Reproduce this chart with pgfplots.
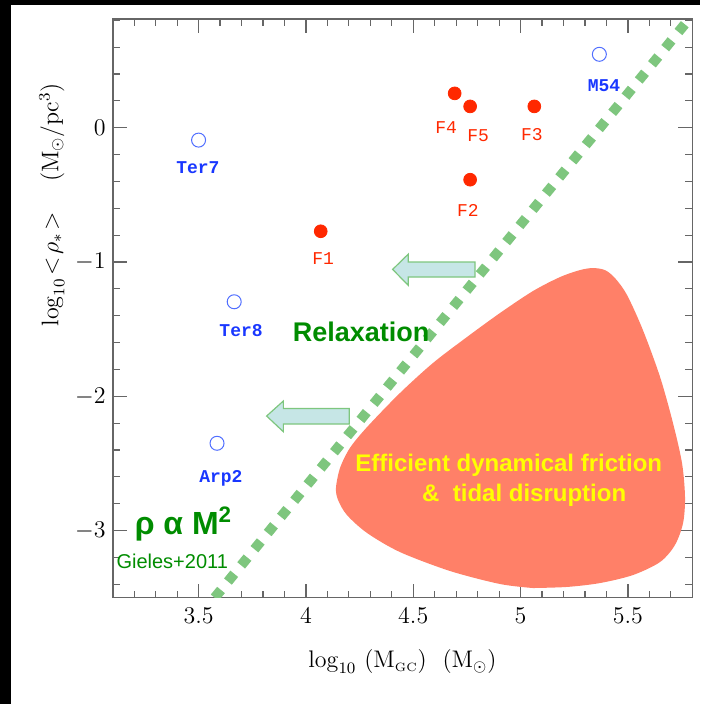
\documentclass[border=0pt]{standalone}
\usepackage{fontspec}
\usepackage{pgfplots}
\pgfplotsset{compat=1.18}
\newfontfamily\arial{Liberation Sans}
\newfontfamily\mono{Liberation Mono}
\definecolor{salmon}{RGB}{255,128,104}
\definecolor{dotgreen}{RGB}{126,198,126}
\definecolor{arrowfill}{RGB}{198,230,230}
\definecolor{arrowedge}{RGB}{126,198,126}
\definecolor{txtgreen}{RGB}{0,140,0}
\definecolor{txtyellow}{RGB}{255,255,0}
\definecolor{lblblue}{RGB}{25,55,255}
\definecolor{circblue}{RGB}{80,110,255}
\definecolor{ptred}{RGB}{255,40,0}
\begin{document}
\begin{tikzpicture}
\path[use as bounding box] (0,0) rectangle (350pt,352pt);
\fill[black] (0,0) rectangle (5.5pt,352pt);
\fill[black] (0,349.5pt) rectangle (350pt,352pt);
\begin{axis}[
  at={(56.35pt,53.15pt)}, anchor=south west,
  scale only axis, width=289.8pt, height=289.35pt,
  xmin=3.1, xmax=5.8, ymin=-3.5, ymax=0.81,
  xtick={3.5,4,4.5,5,5.5},
  ytick={-3,-2,-1,0},
  minor xtick={3.1,3.2,...,5.8},
  minor ytick={-3.4,-3.2,...,0.8},
  tick align=inside,
  major tick length=7pt, minor tick length=3.5pt,
  axis line style={black!60, line width=0.8pt},
  tick style={black!60, line width=0.6pt},
  tick label style={font=\fontsize{12}{14}\selectfont},
  xticklabel style={yshift=-1.5pt},
  every axis x label/.style={at={(rel axis cs:0.5,0)}, anchor=center, yshift=-32pt},
  every axis y label/.style={at={(rel axis cs:-0.105,0.679)}, rotate=90, anchor=center},
  label style={font=\fontsize{12}{14}\selectfont},
  xlabel={$\log_{10}\ (\mathrm{M}_{\mathrm{\scriptscriptstyle GC}})\ \ (\mathrm{M}_\odot)$},
  ylabel={$\log_{10}\!<\!\rho_*\!>\ \ \ (\mathrm{M}_\odot/\mathrm{pc}^3)$},
  clip=true,
]
% disruption region
\addplot[fill=salmon, draw=none, smooth, tension=0.5] coordinates {
(5.058,-3.428) (4.904,-3.398) (4.671,-3.301) (4.438,-3.160) (4.285,-3.018)
(4.191,-2.884) (4.150,-2.773) (4.140,-2.683) (4.159,-2.534) (4.205,-2.385)
(4.285,-2.229) (4.438,-1.976) (4.592,-1.752) (4.750,-1.559) (4.904,-1.380)
(5.058,-1.216) (5.184,-1.112) (5.277,-1.060) (5.337,-1.045) (5.393,-1.060)
(5.440,-1.120) (5.496,-1.246) (5.570,-1.507) (5.650,-1.857) (5.710,-2.199)
(5.752,-2.497) (5.766,-2.750) (5.757,-2.944) (5.719,-3.108) (5.650,-3.234)
(5.524,-3.331) (5.370,-3.391) (5.216,-3.420) (5.058,-3.428)} -- cycle;
% rho ~ M^2 relation
\addplot[draw=dotgreen, line width=5pt, dash pattern=on 5pt off 5.45pt, line cap=butt] coordinates {(3.575,-3.5) (5.785,0.81)};
% arrows
\addplot[fill=arrowfill, draw=arrowedge, line width=0.6pt] coordinates {
(4.404,-1.055) (4.477,-0.941) (4.477,-1.000) (4.788,-1.000) (4.788,-1.112) (4.477,-1.112) (4.477,-1.174)} -- cycle;
\addplot[fill=arrowfill, draw=arrowedge, line width=0.6pt] coordinates {
(3.817,-2.147) (3.895,-2.035) (3.895,-2.091) (4.202,-2.091) (4.202,-2.207) (3.895,-2.207) (3.895,-2.264)} -- cycle;
% clusters
\addplot[only marks, mark=o, mark size=3.5pt, color=circblue, mark options={line width=0.5pt}] coordinates {
(3.500,-0.092) (3.666,-1.296) (3.586,-2.350) (5.367,0.547)};
\addplot[only marks, mark=*, mark size=3.2pt, color=ptred] coordinates {
(4.693,0.256) (4.765,0.159) (5.064,0.159) (4.765,-0.387) (4.069,-0.771)};
% labels
\node[lblblue, font=\mono\bfseries\fontsize{9}{10}\selectfont] at (axis cs:3.497,-0.300) {Ter7};
\node[lblblue, font=\mono\bfseries\fontsize{9}{10}\selectfont] at (axis cs:3.698,-1.507) {Ter8};
\node[lblblue, font=\mono\bfseries\fontsize{9}{10}\selectfont] at (axis cs:3.604,-2.609) {Arp2};
\node[lblblue, font=\mono\bfseries\fontsize{9}{10}\selectfont] at (axis cs:5.389,0.310) {M54};
\node[ptred, font=\mono\fontsize{9}{10}\selectfont] at (axis cs:4.653,0.005) {F4};
\node[ptred, font=\mono\fontsize{9}{10}\selectfont] at (axis cs:4.802,-0.062) {F5};
\node[ptred, font=\mono\fontsize{9}{10}\selectfont] at (axis cs:5.053,-0.054) {F3};
\node[ptred, font=\mono\fontsize{9}{10}\selectfont] at (axis cs:4.755,-0.613) {F2};
\node[ptred, font=\mono\fontsize{9}{10}\selectfont] at (axis cs:4.080,-0.971) {F1};
% annotations
\node[txtgreen, font=\arial\bfseries\fontsize{13.5}{15}\selectfont] at (axis cs:4.257,-1.519) {Relaxation};
\node[txtyellow, font=\arial\bfseries\fontsize{12}{14}\selectfont] at (axis cs:4.945,-2.512) {Efficient dynamical friction};
\node[txtyellow, font=\arial\bfseries\fontsize{12}{14}\selectfont] at (axis cs:5.017,-2.735) {\&\ \ tidal disruption};
\node[txtgreen, font=\arial\bfseries\fontsize{16}{18}\selectfont, anchor=base west, inner sep=0pt] at (axis cs:3.201,-3.033) {ρ α M\textsuperscript{2}};
\node[txtgreen, font=\arial\fontsize{10}{12}\selectfont, anchor=west, inner sep=0pt] at (axis cs:3.116,-3.227) {Gieles+2011};
\end{axis}
\end{tikzpicture}
\end{document}
